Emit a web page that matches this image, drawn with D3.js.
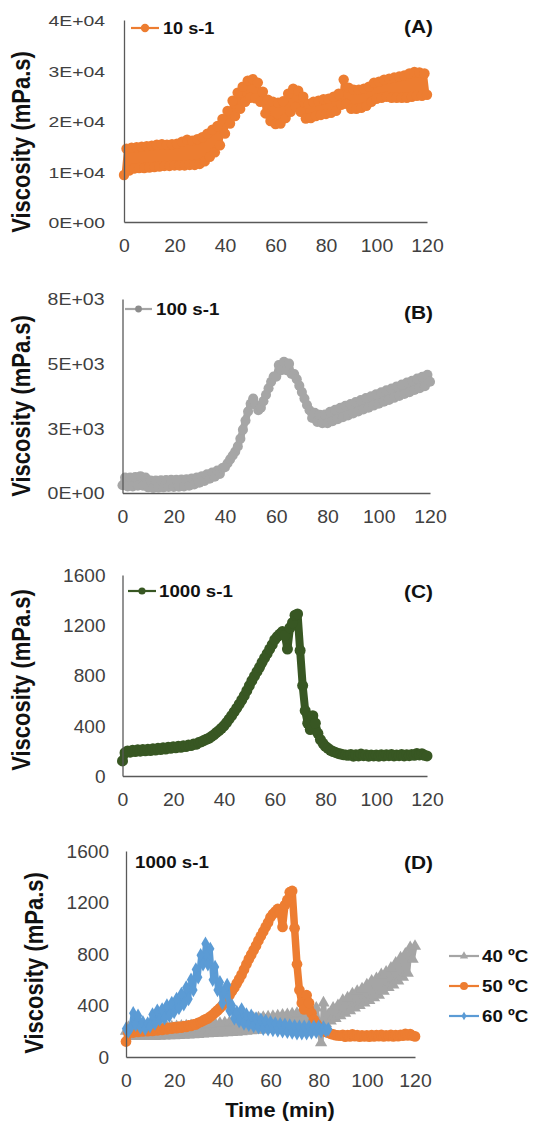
<!DOCTYPE html>
<html><head><meta charset="utf-8">
<script src="https://cdn.jsdelivr.net/npm/d3@7"></script>
<style>
body{margin:0;background:#fff}
svg{display:block}
text{font-family:"Liberation Sans",Arial,Helvetica,sans-serif}
</style>
</head><body>
<svg id="c" width="535" height="1124"></svg>
<script>
// ---------- DATA (one reading per minute) ----------
const timeMin = d3.range(0, 121);           // sampling times, min
const xTicks = [0, 20, 40, 60, 80, 100, 120];

// (A) 10 s-1, viscosity mPa.s
const visc10 = [
 9300,14500,10200,14700,10600,14800,10700,14900,10700,15000,
 10800,15100,10900,15300,11000,15400,11100,15300,11100,15400,
 11200,15500,11200,15900,11200,16300,11300,16100,11300,16400,
 11500,16800,12000,17500,12900,18300,13800,19000,15200,20400,
 17500,22000,19500,24000,21000,25600,22400,26800,23800,28000,
 24600,28300,24500,27600,23800,25800,21500,24200,20000,23800,
 19400,23600,19500,23900,20600,25400,21800,26400,22800,26000,
 21800,24800,20500,23400,20600,23800,21000,24000,21200,24300,
 21400,24400,21600,24800,22000,25400,23200,28200,23400,26600,
 22400,26200,22400,26200,22600,26400,23000,26800,23800,27600,
 24400,27800,24600,28200,24800,28400,24600,28600,24600,28800,
 24600,29000,24600,29400,24800,29700,25000,29600,25000,29400,
 25200];
const yTicks10 = [0, 10000, 20000, 30000, 40000];
const yLabels10 = ["0E+00", "1E+04", "2E+04", "3E+04", "4E+04"];

// (B) 100 s-1
const visc100 = [
 300,600,250,600,250,620,280,650,280,600,
 220,480,200,480,210,490,220,500,230,510,
 230,510,240,520,250,530,280,560,330,600,
 400,650,470,720,550,790,630,870,740,960,
 1000,1150,1300,1450,1600,1800,2100,2450,2800,3150,
 3450,3650,3400,3200,3300,3550,3800,4050,4300,4500,
 4500,4950,4750,5070,4750,5000,4600,4600,4400,4150,
 3900,3650,3400,3200,2900,3100,2750,3020,2700,3030,
 2700,3140,2780,3220,2850,3290,2930,3370,3000,3440,
 3080,3520,3150,3590,3230,3670,3300,3740,3380,3820,
 3450,3890,3530,3970,3600,4040,3680,4120,3750,4190,
 3830,4270,3900,4340,3980,4420,4050,4490,4130,4570,
 4300];
const yTicks100 = [0, 2500, 5000, 7500];
const yLabels100 = ["0E+00", "3E+03", "5E+03", "8E+03"];

// (C) 1000 s-1 (50 ºC)
const visc1000 = [
 120,185,200,190,205,195,208,198,210,200,
 212,203,216,207,220,210,224,215,228,220,
 232,224,236,228,240,234,246,242,254,252,
 266,272,282,292,300,314,328,346,362,380,
 400,425,452,480,510,540,572,605,640,680,
 720,760,795,830,865,905,940,975,1010,1045,
 1085,1110,1130,1150,1120,1010,1180,1220,1280,1290,
 1000,720,520,420,370,480,420,340,290,260,
 235,220,205,195,188,180,175,170,168,165,
 172,158,170,160,175,162,170,158,168,160,
 168,158,170,160,170,162,172,160,168,162,
 172,160,170,162,172,165,180,168,178,165,
 160];
const yTicks1000 = [0, 400, 800, 1200, 1600];

// (D) 1000 s-1 at three temperatures
const visc40C = [
 200,230,160,225,160,225,160,225,160,225,
 160,225,160,228,162,230,164,232,165,234,
 166,236,168,240,170,242,172,244,174,246,
 176,250,178,254,180,258,182,260,184,262,
 186,266,188,270,190,276,192,282,196,288,
 200,296,204,300,208,304,210,308,214,312,
 218,316,220,320,224,326,226,330,230,336,
 232,340,236,346,240,354,245,362,250,380,
 240,110,420,260,330,280,380,300,400,320,
 440,340,460,360,490,380,510,400,530,420,
 560,440,590,460,610,480,640,510,660,540,
 690,560,730,590,770,620,800,650,850,760,
 860];
const visc50C = visc1000;   // same run as panel (C)
const visc60C = [
 220,200,230,340,250,320,230,270,220,260,
 240,330,260,360,290,370,300,400,320,420,
 350,450,380,490,410,540,450,600,520,680,
 620,790,720,880,720,840,600,700,520,580,
 420,520,560,360,400,300,350,280,370,260,
 330,250,320,240,300,230,290,220,280,215,
 270,210,260,205,255,200,250,195,245,190,
 240,185,235,185,235,185,235,190,235,195,
 235,200,230,205,215];
const tempLabels = ["40 ºC", "50 ºC", "60 ºC"];

// ---------- DRAWING ----------
const svg = d3.select('#c');
const ORANGE = '#ED7D31', GRAY = '#A5A5A5', GREEN = '#385723', BLUE = '#5B9BD5';

function drawPanel(p) {
  const x = d3.scaleLinear().domain([0, 120]).range([p.xL, p.xR]);
  const y = d3.scaleLinear().domain([0, p.yMax]).range([p.yB, p.yT]);
  const g = svg.append('g');

  p.series.forEach(s => {
    const pts = s.values.map((v, i) => [timeMin[i], v]);
    g.append('path').datum(pts)
      .attr('d', d3.line().x(d => x(d[0])).y(d => y(d[1])))
      .attr('fill', 'none').attr('stroke', s.color)
      .attr('stroke-width', s.sw).attr('stroke-linejoin', 'round').attr('stroke-linecap', 'round');
    const sym = d3.symbol().type(s.symbol).size(s.size);
    g.append('g').selectAll('path').data(pts).join('path')
      .attr('d', sym)
      .attr('transform', d => `translate(${x(d[0])},${y(d[1])})`)
      .attr('fill', s.marker);
  });

  // x axis
  const gx = svg.append('g').attr('transform', `translate(0,${p.yB})`)
    .call(d3.axisBottom(x).tickValues(xTicks).tickSize(0).tickSizeOuter(0));
  gx.select('.domain').attr('stroke', '#595959').attr('stroke-width', 1.3);
  gx.selectAll('text')
    .attr('y', null).attr('dy', null)
    .attr('transform', `translate(0,30) scale(1.08,1)`)
    .attr('font-size', 18).attr('fill', '#404040')
    .attr('font-family', '"Liberation Sans",Arial,sans-serif');

  // y axis
  const gy = svg.append('g').attr('transform', `translate(${p.xL},0)`)
    .call(d3.axisLeft(y).tickValues(p.yTicks).tickSize(0).tickSizeOuter(0)
      .tickFormat((d, i) => p.yLabels ? p.yLabels[i] : d));
  gy.select('.domain').attr('stroke', '#595959').attr('stroke-width', 1.3);
  gy.selectAll('text')
    .attr('x', null).attr('dy', '0.36em')
    .attr('transform', `translate(${-p.yGap},0) scale(${p.ySx},1)`)
    .attr('font-size', p.yFs).attr('fill', '#404040')
    .attr('font-family', '"Liberation Sans",Arial,sans-serif');

  // y title
  svg.append('text')
    .attr('transform', `translate(${p.titleX},${p.titleY}) scale(1.18,1) rotate(-90)`)
    .attr('text-anchor', 'middle').attr('font-size', 22).attr('font-weight', 'bold')
    .attr('fill', '#111').text('Viscosity (mPa.s)');

  // panel letter
  svg.append('text')
    .attr('transform', `translate(433,${p.letterY}) scale(1.1,1)`)
    .attr('text-anchor', 'end').attr('font-size', 19).attr('font-weight', 'bold')
    .attr('fill', '#111').text(p.letter);

  return {x, y};
}

function legendItem(x1, x2, ly, textX, textY, s, label, fs) {
  svg.append('line').attr('x1', x1).attr('x2', x2).attr('y1', ly).attr('y2', ly)
    .attr('stroke', s.color).attr('stroke-width', 2.2);
  svg.append('path').attr('d', d3.symbol().type(s.symbol).size(s.legendSize)())
    .attr('transform', `translate(${(x1 + x2) / 2},${ly})`).attr('fill', s.legendMarker || s.marker);
  svg.append('text').attr('transform', `translate(${textX},${textY}) scale(1.1,1)`)
    .attr('font-size', fs).attr('font-weight', 'bold').attr('fill', '#111').text(label);
}

const sA = {values: visc10, color: ORANGE, marker: ORANGE, symbol: d3.symbolCircle, size: 85, sw: 5, legendSize: 55};
const sB = {values: visc100, color: GRAY, marker: '#a6a6a6', symbol: d3.symbolCircle, size: 80, sw: 7, legendSize: 36, legendMarker: '#8c8c8c'};
const sC = {values: visc1000, color: GREEN, marker: GREEN, symbol: d3.symbolCircle, size: 95, sw: 8, legendSize: 40};
const s40 = {values: visc40C, color: GRAY, marker: GRAY, symbol: d3.symbolTriangle, size: 65, sw: 5, legendSize: 30};
const s50 = {values: visc50C, color: ORANGE, marker: ORANGE, symbol: d3.symbolCircle, size: 90, sw: 7.5, legendSize: 50};
const s60 = {values: visc60C, color: BLUE, marker: BLUE, symbol: d3.symbolDiamond, size: 60, sw: 5, legendSize: 22};

drawPanel({xL: 124, xR: 427, yT: 20, yB: 222, yMax: 40000, yTicks: yTicks10, yLabels: yLabels10,
  yGap: 19, ySx: 1.25, yFs: 15.5, titleX: 30, titleY: 142, letter: '(A)', letterY: 33, series: [sA]});
drawPanel({xL: 122.5, xR: 430, yT: 299, yB: 493, yMax: 7500, yTicks: yTicks100, yLabels: yLabels100,
  yGap: 18, ySx: 1.22, yFs: 16, titleX: 30, titleY: 406, letter: '(B)', letterY: 319, series: [sB]});
drawPanel({xL: 122.5, xR: 427, yT: 575, yB: 776, yMax: 1600, yTicks: yTicks1000, yLabels: null,
  yGap: 17, ySx: 1.06, yFs: 18, titleX: 30, titleY: 680, letter: '(C)', letterY: 598, series: [sC]});
drawPanel({xL: 126, xR: 415, yT: 851, yB: 1057, yMax: 1600, yTicks: yTicks1000, yLabels: null,
  yGap: 17, ySx: 1.06, yFs: 18, titleX: 43, titleY: 963, letter: '(D)', letterY: 869, series: [s40, s50, s60]});

// legends
legendItem(131, 159, 28, 163, 34, sA, '10 s-1', 16.5);
legendItem(125, 152, 309, 156, 315, sB, '100 s-1', 17);
legendItem(128, 156, 591, 159, 597, sC, '1000 s-1', 17);
legendItem(449, 479, 956, 482, 962, s40, tempLabels[0], 17);
legendItem(449, 479, 986, 482, 992, s50, tempLabels[1], 17);
legendItem(449, 479, 1016, 482, 1022, s60, tempLabels[2], 17);

// panel D labels
svg.append('text').attr('transform', 'translate(135,868) scale(1.1,1)')
  .attr('font-size', 17).attr('font-weight', 'bold').attr('fill', '#111').text('1000 s-1');
svg.append('text').attr('transform', 'translate(280,1117) scale(1.09,1)')
  .attr('text-anchor', 'middle').attr('font-size', 20).attr('font-weight', 'bold')
  .attr('fill', '#111').text('Time (min)');
</script>
</body></html>
